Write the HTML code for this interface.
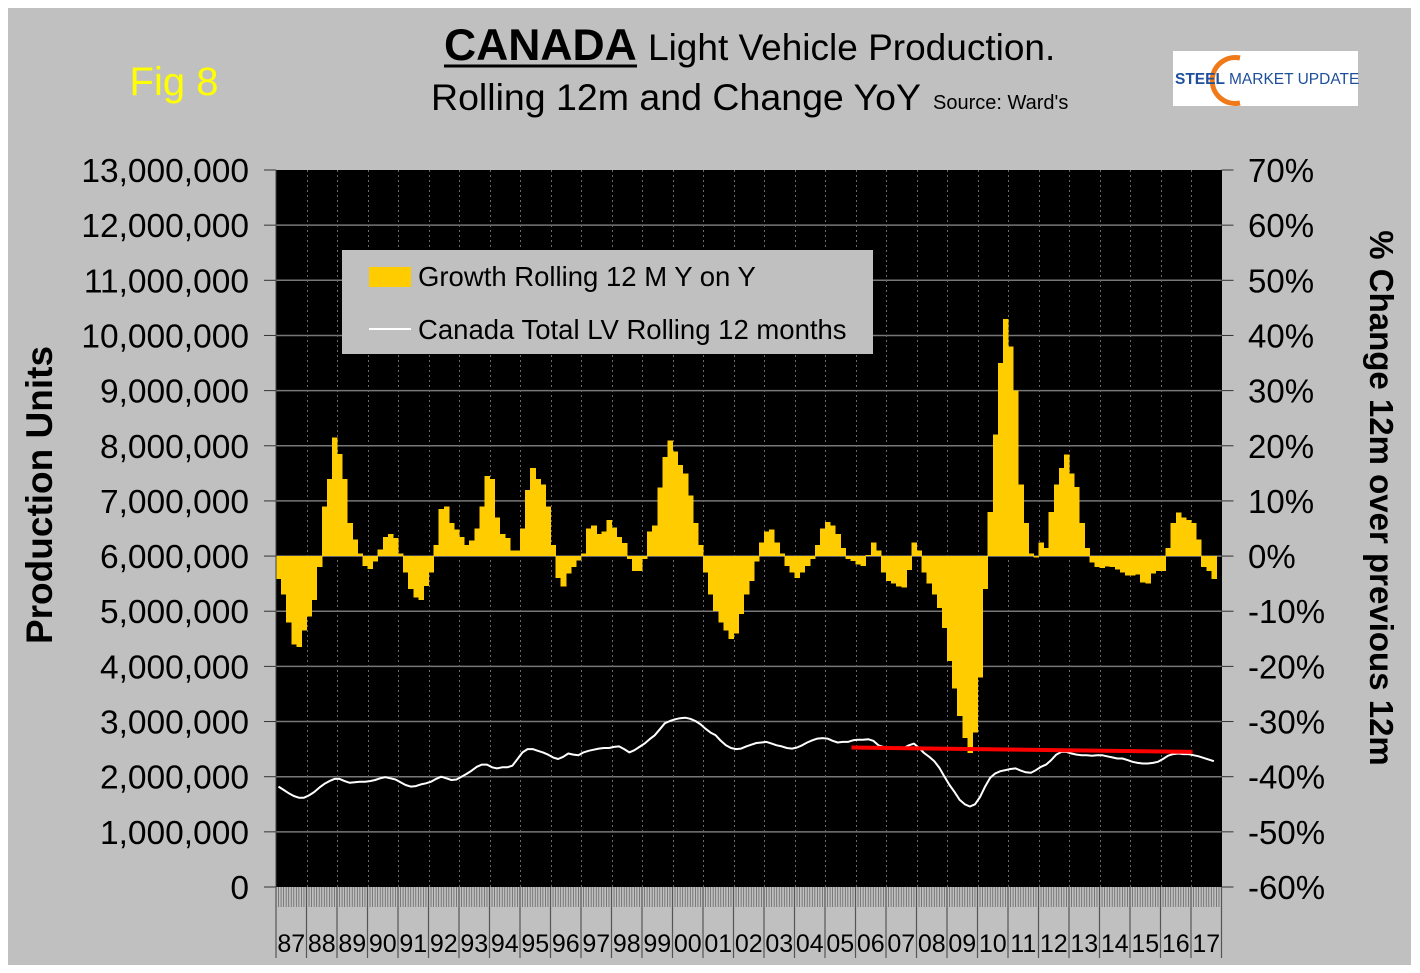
<!DOCTYPE html>
<html><head><meta charset="utf-8"><style>
html,body{margin:0;padding:0;background:#fff;}
svg{display:block;font-family:"Liberation Sans",Arial,sans-serif;}
</style></head><body>
<svg id="chart" width="1420" height="973" viewBox="0 0 1420 973">
  <rect x="8" y="8" width="1403" height="957" fill="#c0c0c0"/>
  <text x="174" y="95" font-size="40" fill="#ffff00" text-anchor="middle">Fig 8</text>
  <g>
    <text x="444" y="60" font-size="44.5" font-weight="bold">CANADA</text>
    <line x1="444" y1="66" x2="637" y2="66" stroke="#000" stroke-width="3"/>
    <text x="648" y="60" font-size="37">Light Vehicle Production.</text>
    <text x="431" y="110" font-size="37.5">Rolling 12m and Change YoY</text>
    <text x="933" y="109" font-size="20">Source: Ward's</text>
  </g>
  <g>
    <rect x="1173" y="51" width="185" height="55" fill="#fff"/>
    <path d="M1240,58 A23,23 0 1,0 1240,103" fill="none" stroke="#f07a1a" stroke-width="5"/>
    <text x="1175" y="84" font-size="15.5" font-weight="bold" fill="#1d4f9a">STEEL</text>
    <text x="1229" y="84" font-size="15.5" fill="#1d4f9a">MARKET UPDATE</text>
  </g>
  <rect x="276" y="170" width="946" height="717" fill="#000"/>
  <g id="grid"></g>
  <g id="bars"></g>
  <g id="lines"></g>
  <g id="axes"></g>
  <text transform="translate(52,495) rotate(-90)" font-size="37" font-weight="bold" text-anchor="middle">Production Units</text>
  <text transform="translate(1370,498) rotate(90)" font-size="33" font-weight="bold" text-anchor="middle">% Change 12m over previous 12m</text>
  <g>
    <rect x="342" y="250" width="531" height="104" fill="#c0c0c0"/>
    <rect x="369" y="267" width="42" height="20" fill="#ffcc00"/>
    <text x="418" y="286" font-size="27.5">Growth Rolling 12 M Y on Y</text>
    <line x1="369" y1="329" x2="411" y2="329" stroke="#fff" stroke-width="2"/>
    <text x="418" y="339" font-size="27.5">Canada Total LV Rolling 12 months</text>
  </g>
</svg>
<script>
// bimonthly data starting Jan 1987
const growthPct = [-4.2,-7,-12,-16,-16.5,-13.5,-11,-8,-2,9,14,21.5,18.5,14,6,3,0.5,-1.8,-2.3,-1,1.2,3.5,4,3.3,0.5,-3,-6,-7.5,-8,-5.4,-3,2,8.5,9,6,4.8,3.5,2,2.8,5,9,14.5,14,7,4,3.3,1,1,5,12,16,14,13,9,2,-4,-5.5,-3.2,-2,-0.8,0.5,5,5.5,4,4.5,6.5,5.2,3.5,2.4,-0.5,-2.7,-2.7,-0.5,4.5,5.5,12.4,18,21,19,16.5,15,11,6,2,-3,-7,-10,-12,-13.5,-15,-14,-10.5,-7,-4.5,-1,2.5,4.5,4.8,2.5,0.5,-1.8,-3,-4,-3,-1.8,-0.5,2,5,6.2,5.5,4,1.5,-0.5,-0.9,-1.5,-1.8,0.2,2.5,1,-3,-4.5,-5,-5.5,-5.7,-2.5,2.5,1,-3,-5,-7,-9.4,-13,-19,-24,-29,-33,-35.7,-32,-22,-6,8,22,35,43,38,30,13,6,0.5,-0.3,2.5,1.5,8,13,16,18.4,15,12.5,6,1.5,-1.2,-2,-2.2,-1.9,-2,-2.4,-3,-3.5,-3.5,-3.3,-4.8,-5,-3.2,-2.7,-2.7,1.5,6,7.9,7,6.5,6,3,-2,-2.7,-4.2];
const productionMillions = [1.82,1.76,1.70,1.65,1.62,1.62,1.66,1.72,1.80,1.87,1.92,1.96,1.96,1.92,1.89,1.90,1.91,1.91,1.92,1.94,1.97,1.99,1.97,1.95,1.90,1.85,1.82,1.83,1.86,1.88,1.91,1.96,2.00,1.97,1.94,1.95,2.00,2.05,2.11,2.18,2.22,2.22,2.17,2.15,2.17,2.17,2.20,2.32,2.44,2.50,2.50,2.47,2.44,2.40,2.35,2.32,2.36,2.42,2.40,2.39,2.44,2.47,2.49,2.51,2.52,2.52,2.54,2.55,2.50,2.44,2.48,2.54,2.60,2.68,2.75,2.86,2.97,3.01,3.04,3.06,3.07,3.05,3.01,2.95,2.87,2.80,2.75,2.65,2.57,2.52,2.50,2.51,2.55,2.58,2.61,2.62,2.63,2.60,2.57,2.55,2.52,2.51,2.53,2.57,2.62,2.66,2.69,2.70,2.69,2.65,2.62,2.63,2.63,2.66,2.67,2.67,2.68,2.65,2.57,2.54,2.52,2.51,2.51,2.52,2.57,2.60,2.52,2.43,2.36,2.28,2.16,2.00,1.85,1.72,1.58,1.50,1.46,1.50,1.63,1.82,1.98,2.06,2.10,2.12,2.14,2.15,2.11,2.08,2.07,2.12,2.18,2.22,2.30,2.40,2.45,2.45,2.42,2.40,2.39,2.39,2.38,2.39,2.39,2.37,2.35,2.33,2.33,2.30,2.27,2.25,2.24,2.24,2.25,2.27,2.32,2.38,2.41,2.42,2.41,2.41,2.39,2.37,2.34,2.31,2.28];
const trendStartIndex = 113.2, trendStartValue = 2.53;
const trendEndIndex = 180.3, trendEndValue = 2.45;
const yearLabels = ["87","88","89","90","91","92","93","94","95","96","97","98","99","00","01","02","03","04","05","06","07","08","09","10","11","12","13","14","15","16","17"];
const leftTicks = [0,1,2,3,4,5,6,7,8,9,10,11,12,13];
const rightTicks = [-60,-50,-40,-30,-20,-10,0,10,20,30,40,50,60,70];

const NS = "http://www.w3.org/2000/svg";
const PL = 276, PR = 1221.5, PT = 170, PB = 887;
const periodsTotal = yearLabels.length * 6;
const pw = (PR - PL) / periodsTotal;
const xIdx = i => PL + i * pw;
const yLeft = m => PB - m / 13 * (PB - PT);
const yRight = p => PB - (p + 60) / 130 * (PB - PT);
function mk(tag, attrs, parent){const e=document.createElementNS(NS,tag);for(const k in attrs)e.setAttribute(k,attrs[k]);parent.appendChild(e);return e;}

const grid = document.getElementById('grid');
leftTicks.forEach(v=>{ if(v===0||v===13) return;
  const l = mk('line',{x1:PL,x2:PR,y1:yLeft(v),y2:yLeft(v),stroke:'#777','stroke-width':1.5},grid);
  
  
});
yearLabels.forEach((y,i)=>{ if(i===0) return;
  const x = Math.round(PL + i*6*pw) + 0.5;
  const l = mk('line',{x1:x,x2:x,y1:PT,y2:PB,stroke:'#6a6a6a','stroke-width':1,'stroke-dasharray':'2,3'},grid);
  
  
});

const bars = document.getElementById('bars');
const z = yRight(0);
growthPct.forEach((p,i)=>{
  const y = yRight(p);
  const r = mk('rect',{x:xIdx(i),y:Math.min(y,z),width:pw+0.5,height:Math.abs(z-y),fill:'#ffcc00','shape-rendering':'crispEdges'},bars);
  
  
});

const lines = document.getElementById('lines');
const pts = productionMillions.map((v,i)=>(xIdx(i)+pw/2).toFixed(1)+','+yLeft(v).toFixed(1)).join(' ');
const pl = mk('polyline',{points:pts,fill:'none',stroke:'#fff','stroke-width':2,'stroke-linejoin':'round'},lines);


const tr = mk('line',{x1:xIdx(trendStartIndex),y1:yLeft(trendStartValue),x2:xIdx(trendEndIndex),y2:yLeft(trendEndValue),stroke:'#ff0000','stroke-width':4},lines);



const axes = document.getElementById('axes');
leftTicks.forEach(v=>{
  const y = yLeft(v);
  mk('line',{x1:PL-12,x2:PL,y1:y,y2:y,stroke:'#333','stroke-width':1},axes);
  const t = mk('text',{x:249,y:y+12,'font-size':33.5,'text-anchor':'end'},axes);
  t.textContent = (v*1000000).toLocaleString('en-US');
  
  
});
rightTicks.forEach(v=>{
  const y = yRight(v);
  mk('line',{x1:PR,x2:PR+12,y1:y,y2:y,stroke:'#333','stroke-width':1},axes);
  const t = mk('text',{x:1248,y:y+12,'font-size':33},axes);
  t.textContent = v+'%';
  
  
});
for(let m=0;m<=yearLabels.length*12;m++){
  const x = PL + m*pw/2;
  mk('line',{x1:x,x2:x,y1:PB,y2:PB+20,stroke:'#666','stroke-width':0.8},axes);
}
yearLabels.forEach((lab,i)=>{
  const x0 = PL + i*6*pw;
  mk('line',{x1:x0,x2:x0,y1:PB,y2:958,stroke:'#555','stroke-width':1.2},axes);
  const t = mk('text',{x:x0+3*pw,y:952,'font-size':25,'text-anchor':'middle'},axes);
  t.textContent = lab;
  
  
});
mk('line',{x1:PR,x2:PR,y1:PB,y2:958,stroke:'#555','stroke-width':1.2},axes);
mk('line',{x1:PL,x2:PL,y1:PT,y2:PB,stroke:'#444','stroke-width':1},axes);
</script>
</body></html>
